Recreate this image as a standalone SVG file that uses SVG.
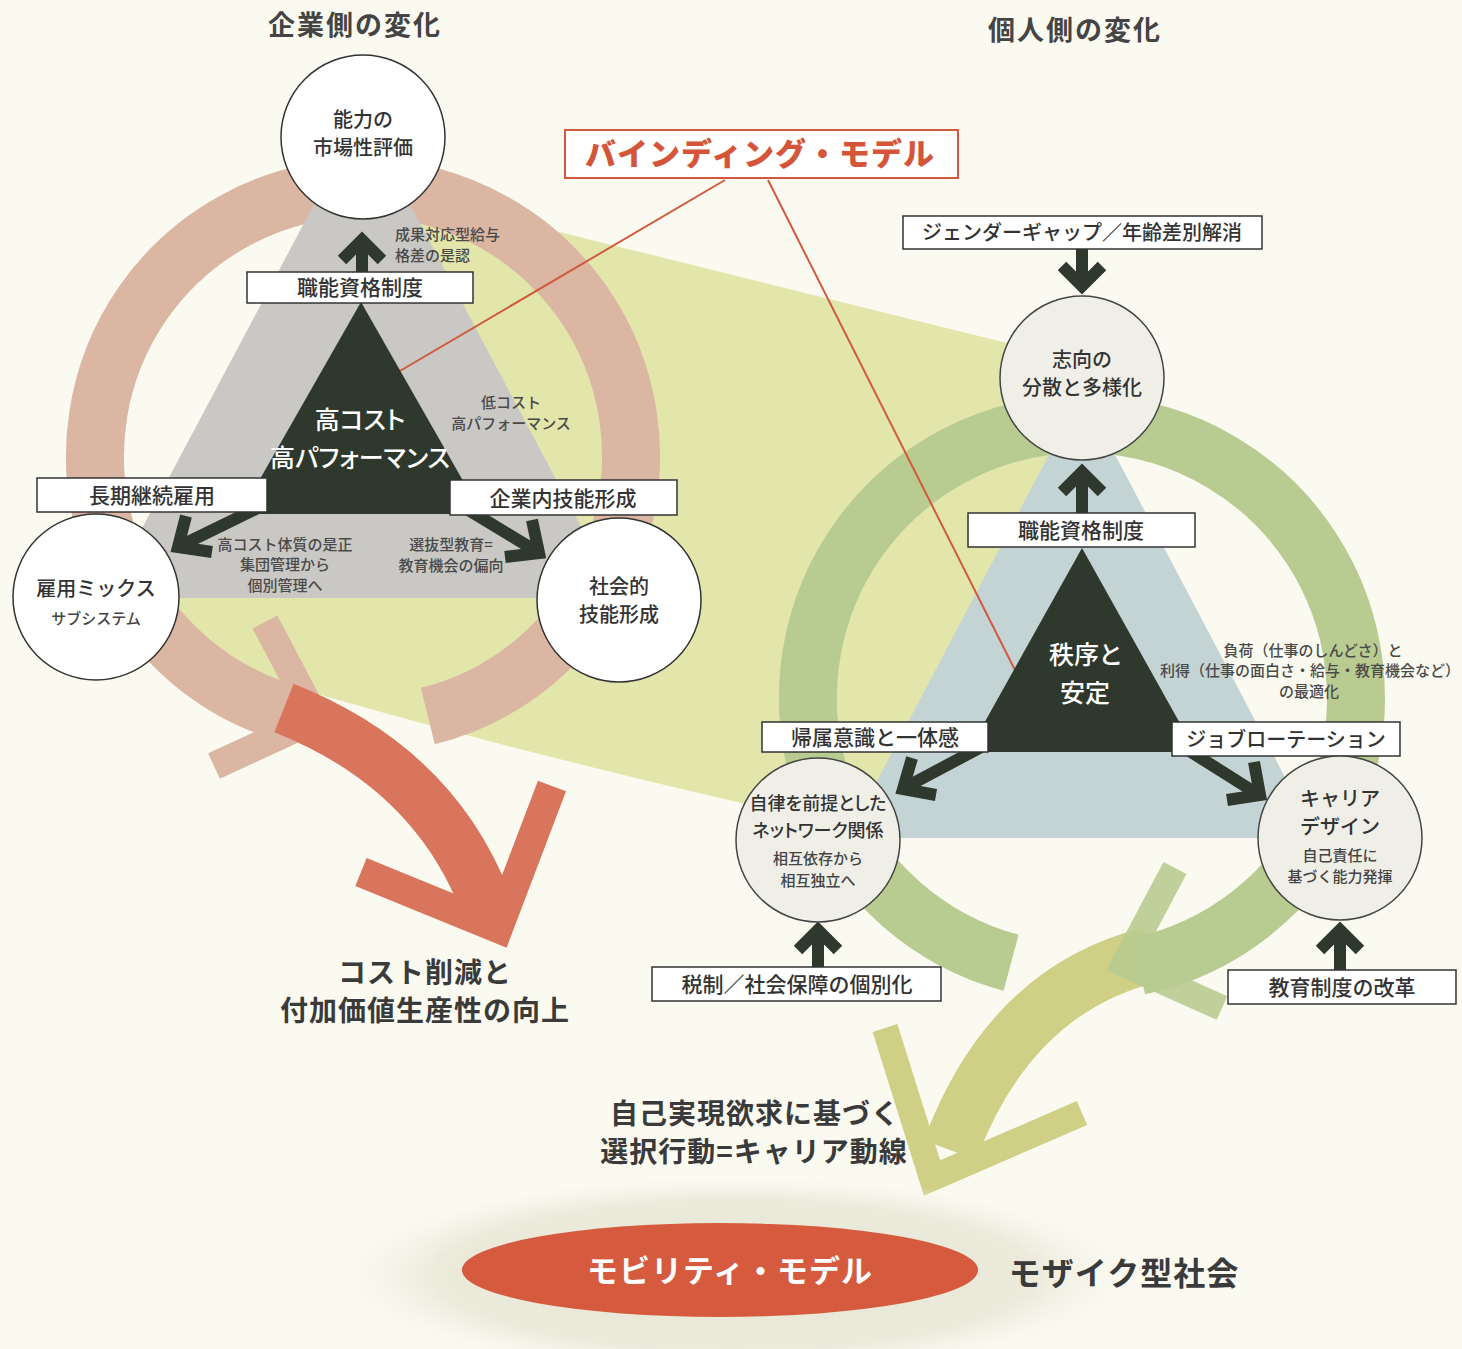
<svg xmlns="http://www.w3.org/2000/svg" width="1462" height="1349" viewBox="0 0 1462 1349">
<defs>
<style>
text{font-family:'Noto Sans CJK JP','Noto Sans CJK SC',sans-serif;fill:#333;text-anchor:middle}
.title{font-size:27px;font-weight:700;fill:#444;letter-spacing:2px}
.box{fill:#fff;stroke:#333;stroke-width:1.5}
.bl{font-size:21px;font-weight:500}
.cw{fill:#fff;stroke:#333;stroke-width:1.5}
.cg{fill:#efefe8;stroke:#444;stroke-width:1.5}
.ct{font-size:20px;font-weight:500}
.cs{font-size:15px;font-weight:500;fill:#444}
.sm{font-size:15px;font-weight:500;fill:#4a4a4a}
.wh{font-size:25px;font-weight:500;fill:#fff;font-feature-settings:"palt"}
.big{font-size:28px;font-weight:700;fill:#3a3a3a;letter-spacing:1px}
.dk{fill:none;stroke:#2e382c;stroke-width:12;stroke-linejoin:miter}
.dks{fill:none;stroke:#2e382c;stroke-width:12}
.red{fill:none;stroke:#d25a3c;stroke-width:2}
</style>
<radialGradient id="fog" cx="0.5" cy="0.5" r="0.5">
<stop offset="0" stop-color="#e8e8d6"/>
<stop offset="0.75" stop-color="#ebeadb"/>
<stop offset="1" stop-color="#f6f5ea" stop-opacity="0"/>
</radialGradient>
</defs>
<rect width="1462" height="1349" fill="#fbfaf1"/>

<g id="backdrop">
<path d="M120 600 L330 175 L1075 360 L1075 600 L870 832 Q450 740 140 640 Z" fill="#e3e6ab"/>
<path d="M427.8 716 A268 268 0 1 0 298.2 716" fill="none" stroke="#dab6a3" stroke-width="58"/>
<polyline points="265,622 316,719 214,766" fill="none" stroke="#dab6a3" stroke-width="28" stroke-linejoin="miter"/>
<path d="M284 708 Q440 770 490 915" fill="none" stroke="#d9755c" stroke-width="52"/>
<polyline points="361,872 498,928 552,786" fill="none" stroke="#d9755c" stroke-width="30" stroke-linejoin="miter"/>
<polygon points="362,114 619,598 105,598" fill="#c9c8c4"/>
<path d="M1150 955 Q1010 990 950 1150" fill="none" stroke="#d0cf86" stroke-width="56"/>
<polyline points="885,1028 932,1178 1082,1113" fill="none" stroke="#d0cf86" stroke-width="26" stroke-linejoin="miter"/>
<path d="M1011.1 962.7 A274 274 0 1 1 1139 966" fill="none" stroke="#b8cb90" stroke-width="58"/>
<polyline points="1175,868 1124,964 1222,1008" fill="none" stroke="#b8cb90" stroke-width="26" stroke-linejoin="miter" opacity="0.9"/>
<polygon points="1082,392 1317,838 847,838" fill="#c4d3d4"/>
<ellipse cx="735" cy="1275" rx="400" ry="100" fill="url(#fog)"/>
</g>

<g id="connectors">
<line class="red" x1="725" y1="180" x2="388" y2="378"/>
<line class="red" x1="768" y1="180" x2="1018" y2="676"/>
<line class="dks" x1="362" y1="272" x2="362" y2="242"/>
<polyline class="dk" points="342,260 362,240 382,260"/>
<line class="dks" x1="262" y1="506" x2="182" y2="545"/>
<polyline class="dk" points="186,516 178,547 212,552"/>
<line class="dks" x1="462" y1="506" x2="536" y2="551"/>
<polyline class="dk" points="532,520 539,553 505,557"/>
<line class="dks" x1="1082" y1="249" x2="1082" y2="284"/>
<polyline class="dk" points="1062,266 1082,286 1102,266"/>
<line class="dks" x1="1082" y1="513" x2="1082" y2="474"/>
<polyline class="dk" points="1062,492 1082,472 1102,492"/>
<line class="dks" x1="985" y1="745" x2="906" y2="787"/>
<polyline class="dk" points="912,758 903,789 936,795"/>
<line class="dks" x1="1180" y1="745" x2="1256" y2="793"/>
<polyline class="dk" points="1254,762 1260,795 1227,800"/>
<line class="dks" x1="818" y1="967" x2="818" y2="932"/>
<polyline class="dk" points="798,950 818,930 838,950"/>
<line class="dks" x1="1340" y1="970" x2="1340" y2="932"/>
<polyline class="dk" points="1320,950 1340,930 1360,950"/>
</g>

<text class="title" x="355" y="35">企業側の変化</text>
<text class="title" x="1075" y="40">個人側の変化</text>

<g id="core-left">
<polygon points="361,302 482,514 240,514" fill="#2e382c"/>
<text class="wh" x="360" y="429">高コスト</text>
<text class="wh" x="360" y="467">高パフォーマンス</text>
</g>
<g id="core-right">
<polygon points="1082,548 1196,752 968,752" fill="#2e382c"/>
<text class="wh" x="1085" y="664">秩序と</text>
<text class="wh" x="1085" y="702">安定</text>
</g>

<g id="n-nouryoku"><circle class="cw" cx="363" cy="137" r="82"/><text class="ct" x="363" y="127">能力の</text><text class="ct" x="363" y="155">市場性評価</text></g>
<g id="n-koyou"><circle class="cw" cx="96" cy="597" r="83"/><text class="ct" x="96" y="596">雇用ミックス</text><text class="cs" x="96" y="624">サブシステム</text></g>
<g id="n-shakai"><circle class="cw" cx="619" cy="600" r="82"/><text class="ct" x="619" y="594">社会的</text><text class="ct" x="619" y="622">技能形成</text></g>

<g id="b-shokunou-l"><rect class="box" x="247" y="272" width="226" height="31"/><text class="bl" x="360" y="295">職能資格制度</text></g>
<g id="b-choki"><rect class="box" x="37" y="478" width="230" height="34"/><text class="bl" x="152" y="503">長期継続雇用</text></g>
<g id="b-kigyonai"><rect class="box" x="450" y="480" width="227" height="35"/><text class="bl" x="563" y="506">企業内技能形成</text></g>

<text class="sm" x="395" y="240" style="text-anchor:start">成果対応型給与</text>
<text class="sm" x="395" y="261" style="text-anchor:start">格差の是認</text>
<text class="sm" x="511" y="408">低コスト</text>
<text class="sm" x="511" y="429">高パフォーマンス</text>
<text class="sm" x="285" y="550">高コスト体質の是正</text>
<text class="sm" x="285" y="570">集団管理から</text>
<text class="sm" x="285" y="591">個別管理へ</text>
<text class="sm" x="451" y="550">選抜型教育=</text>
<text class="sm" x="451" y="571">教育機会の偏向</text>

<g id="binding"><rect x="565" y="130" width="393" height="48" fill="#fff" stroke="#d25a3c" stroke-width="2"/><text x="760" y="165" style="font-size:31px;font-weight:900;fill:#d4553a;letter-spacing:1px">バインディング・モデル</text></g>

<g id="b-gender"><rect class="box" x="903" y="216" width="359" height="33"/><text class="bl" x="1082" y="240" style="font-size:20px">ジェンダーギャップ／年齢差別解消</text></g>
<g id="n-shikou"><circle class="cg" cx="1082" cy="378" r="82"/><text class="ct" x="1082" y="367">志向の</text><text class="ct" x="1082" y="395">分散と多様化</text></g>
<g id="b-shokunou-r"><rect class="box" x="968" y="513" width="227" height="34"/><text class="bl" x="1081" y="538">職能資格制度</text></g>
<g id="b-kizoku"><rect class="box" x="762" y="722" width="226" height="30"/><text class="bl" x="875" y="745">帰属意識と一体感</text></g>
<g id="b-job"><rect class="box" x="1172" y="722" width="228" height="34"/><text class="bl" x="1286" y="747" style="font-size:20px">ジョブローテーション</text></g>
<g id="n-jiritsu"><circle class="cg" cx="818" cy="840" r="82"/><text x="818" y="810" style="font-size:18px;font-weight:500;font-feature-settings:'palt'">自律を前提とした</text><text x="818" y="837" style="font-size:18px;font-weight:500;font-feature-settings:'palt'">ネットワーク関係</text><text class="cs" x="818" y="864">相互依存から</text><text class="cs" x="818" y="886">相互独立へ</text></g>
<g id="n-career"><circle class="cg" cx="1340" cy="838" r="82"/><text class="ct" x="1340" y="806">キャリア</text><text class="ct" x="1340" y="834">デザイン</text><text class="cs" x="1340" y="861">自己責任に</text><text class="cs" x="1340" y="882">基づく能力発揮</text></g>
<g id="b-zeisei"><rect class="box" x="652" y="967" width="289" height="34"/><text class="bl" x="797" y="992">税制／社会保障の個別化</text></g>
<g id="b-kyoiku"><rect class="box" x="1228" y="970" width="228" height="34"/><text class="bl" x="1342" y="995">教育制度の改革</text></g>

<text class="sm" x="1313" y="656">負荷（仕事のしんどさ）と</text>
<text class="sm" x="1310" y="676">利得（仕事の面白さ・給与・教育機会など）</text>
<text class="sm" x="1309" y="697">の最適化</text>

<text class="big" x="425" y="983">コスト削減と</text>
<text class="big" x="425" y="1021">付加価値生産性の向上</text>
<text class="big" x="755" y="1124">自己実現欲求に基づく</text>
<text class="big" x="754" y="1162">選択行動=キャリア動線</text>

<g id="mobility"><ellipse cx="720" cy="1270" rx="258" ry="47" fill="#d65b3e"/><text x="730" y="1282" style="font-size:31px;font-weight:700;fill:#fff;letter-spacing:1px">モビリティ・モデル</text></g>
<text x="1124" y="1285" style="font-size:32px;font-weight:700;fill:#3a3a3a;letter-spacing:1px">モザイク型社会</text>
</svg>
